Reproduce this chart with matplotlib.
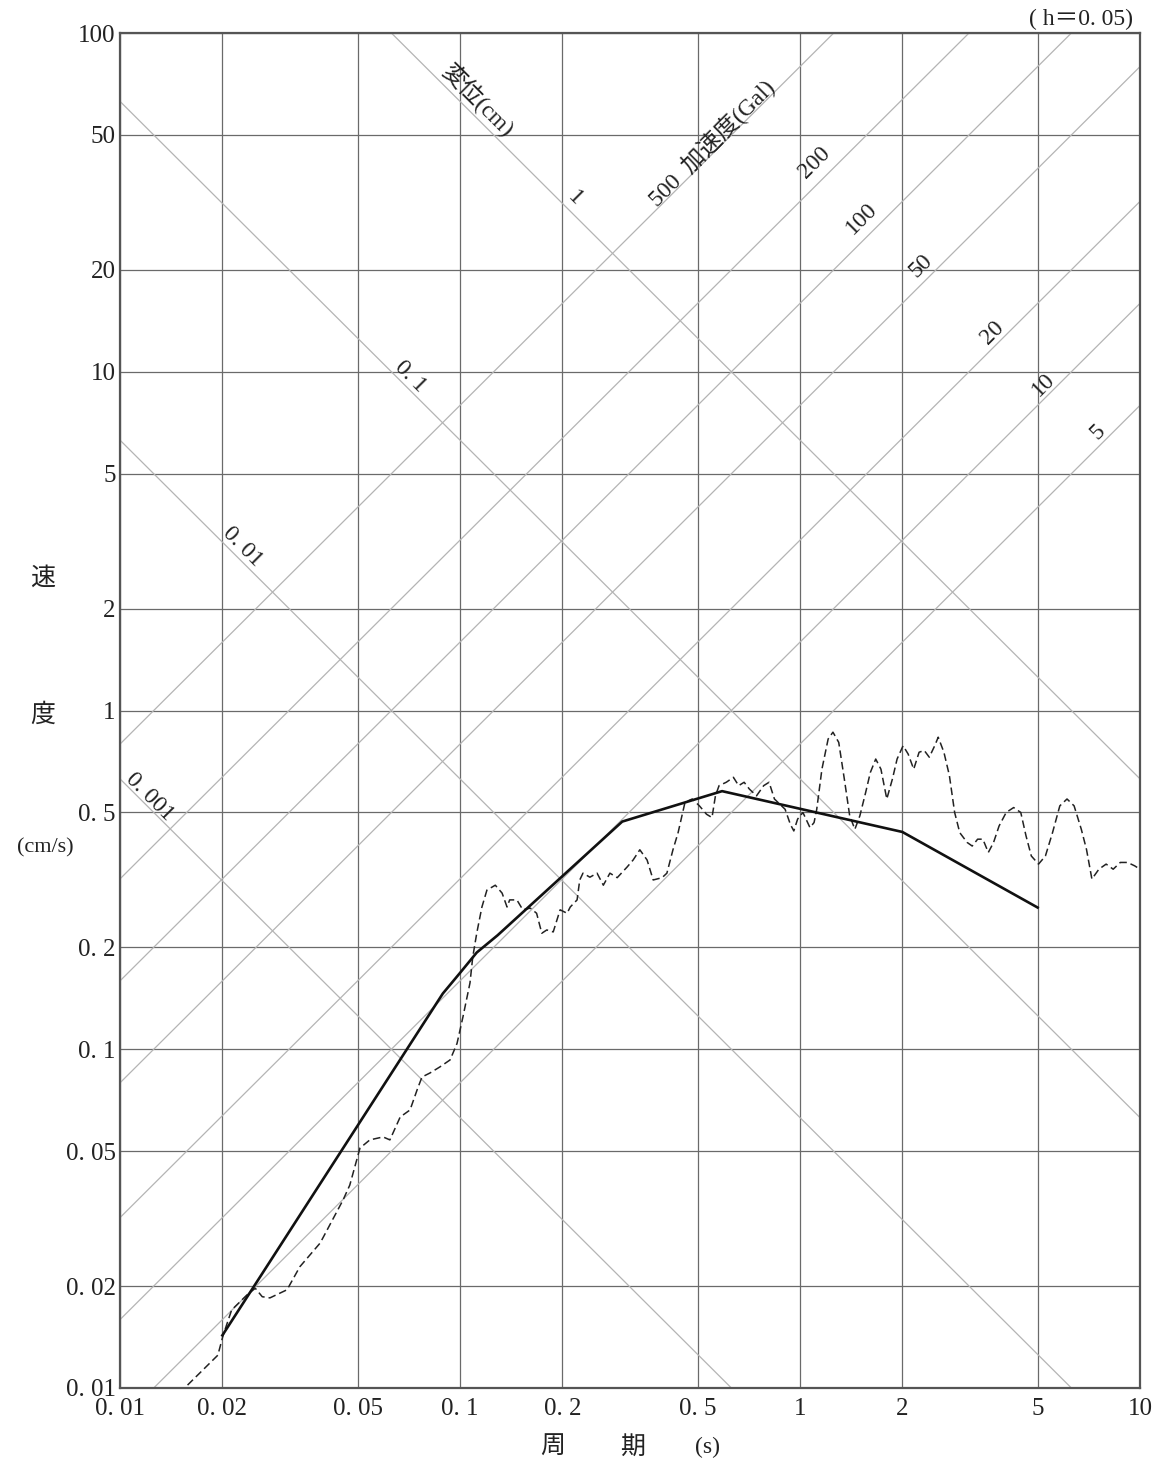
import numpy as np
import matplotlib
matplotlib.use("Agg")
import matplotlib.pyplot as plt
from matplotlib.ticker import FixedLocator, FixedFormatter, NullLocator

# ---------------- data ----------------
period_ticks = [0.01, 0.02, 0.05, 0.1, 0.2, 0.5, 1, 2, 5, 10]
period_labels = ["0. 01", "0. 02", "0. 05", "0. 1", "0. 2", "0. 5", "1", "2", "5", "10"]
vel_ticks = [0.01, 0.02, 0.05, 0.1, 0.2, 0.5, 1, 2, 5, 10, 20, 50, 100]
vel_labels = ["0. 01", "0. 02", "0. 05", "0. 1", "0. 2", "0. 5", "1", "2", "5",
              "10", "20", "50", "100"]

disp_levels = [0.001, 0.01, 0.1, 1]          # cm
acc_levels = [500, 200, 100, 50, 20, 10, 5]  # Gal

# labels of the tripartite lines: (text, period, velocity)
disp_label_text = ["変位(cm)", "1", "0. 1", "0. 01", "0. 001"]
disp_label_T = [0.113, 0.218, 0.0713, 0.0229, 0.01226]
disp_label_SV = [63.0, 32.6, 9.65, 3.04, 0.555]

acc_label_text = ["500  加速度(Gal)", "200", "100", "50", "20", "10", "5"]
acc_label_T = [0.551, 1.107, 1.52, 2.27, 3.67, 5.19, 7.52]
acc_label_SV = [47.3, 41.3, 28.4, 20.6, 13.0, 9.14, 6.64]

# design (smooth) spectrum - solid line
design_T = [0.02, 0.089, 0.100, 0.112, 0.129, 0.30, 0.59, 2.0, 5.0]
design_SV = [0.0143, 0.146, 0.168, 0.193, 0.217, 0.47, 0.578, 0.438, 0.262]

# observed spectrum - dashed line
obs_T = [0.0158, 0.0194, 0.0201, 0.0213, 0.0236, 0.0250, 0.0262, 0.0276, 0.0310,
         0.0338, 0.0388, 0.0453, 0.0474, 0.0508, 0.0543, 0.0594, 0.0622, 0.0667,
         0.0713, 0.0748, 0.0773, 0.0816, 0.0873, 0.0935, 0.098, 0.102, 0.107,
         0.109, 0.112, 0.116, 0.120, 0.127, 0.133, 0.1375, 0.140, 0.147, 0.153,
         0.161, 0.168, 0.174, 0.180, 0.188, 0.197, 0.2065, 0.211, 0.221, 0.225,
         0.230, 0.241, 0.253, 0.264, 0.276, 0.290, 0.310, 0.323, 0.338, 0.355,
         0.370, 0.393, 0.406, 0.423, 0.438, 0.459, 0.482, 0.506, 0.531, 0.551,
         0.564, 0.578, 0.607, 0.637, 0.660, 0.685, 0.710, 0.745, 0.782, 0.811,
         0.841, 0.872, 0.904, 0.937, 0.959, 0.984, 1.02, 1.07, 1.10, 1.12, 1.16,
         1.21, 1.25, 1.30, 1.35, 1.40, 1.45, 1.50, 1.56, 1.61, 1.67, 1.73, 1.80,
         1.87, 1.93, 2.01, 2.08, 2.16, 2.24, 2.32, 2.40, 2.49, 2.55, 2.65, 2.75,
         2.85, 2.95, 3.10, 3.21, 3.33, 3.45, 3.58, 3.71, 3.85, 4.04, 4.25, 4.46,
         4.62, 4.79, 5.03, 5.27, 5.53, 5.81, 6.10, 6.40, 6.72, 6.96, 7.22, 7.57,
         7.95, 8.34, 8.75, 9.19, 9.64, 10.0]
obs_SV = [0.0102, 0.0125, 0.0143, 0.0170, 0.0188, 0.0197, 0.0186, 0.01845, 0.0195,
          0.0228, 0.0268, 0.0359, 0.0397, 0.0511, 0.0540, 0.0551, 0.0540, 0.0631,
          0.0662, 0.0759, 0.0828, 0.0851, 0.0887, 0.0930, 0.104, 0.1245, 0.157,
          0.187, 0.220, 0.263, 0.295, 0.305, 0.289, 0.263, 0.276, 0.276, 0.258,
          0.261, 0.252, 0.220, 0.225, 0.222, 0.258, 0.252, 0.263, 0.276, 0.316,
          0.331, 0.322, 0.331, 0.305, 0.331, 0.321, 0.345, 0.362, 0.388, 0.362,
          0.316, 0.321, 0.331, 0.388, 0.436, 0.536, 0.548, 0.523, 0.494, 0.483,
          0.560, 0.600, 0.614, 0.635, 0.600, 0.614, 0.586, 0.560, 0.600, 0.614,
          0.548, 0.529, 0.511, 0.461, 0.441, 0.478, 0.500, 0.451, 0.467, 0.511,
          0.671, 0.824, 0.863, 0.805, 0.628, 0.489, 0.446, 0.489, 0.573, 0.656,
          0.719, 0.671, 0.548, 0.628, 0.719, 0.787, 0.744, 0.671, 0.753, 0.762,
          0.728, 0.787, 0.834, 0.753, 0.643, 0.500, 0.436, 0.408, 0.398, 0.417,
          0.417, 0.381, 0.408, 0.456, 0.500, 0.517, 0.500, 0.427, 0.372, 0.352,
          0.372, 0.436, 0.523, 0.548, 0.523, 0.446, 0.389, 0.318, 0.340, 0.352,
          0.340, 0.356, 0.356, 0.348, 0.340]

# ---------------- figure ----------------
W, H = 1165, 1465
fig = plt.figure(figsize=(W / 100, H / 100), dpi=100)
ax = fig.add_axes([120 / W, 1 - 1388 / H, (1140 - 120) / W, (1388 - 33) / H])
ax.set_xscale("log")
ax.set_yscale("log")
ax.set_xlim(0.01, 10)
ax.set_ylim(0.01, 100)

num_font = "Liberation Serif"
cjk_font = ["Liberation Serif", "Noto Sans CJK JP"]
txt_color = "#222222"

ax.xaxis.set_major_locator(FixedLocator(period_ticks))
ax.xaxis.set_major_formatter(FixedFormatter(period_labels))
ax.yaxis.set_major_locator(FixedLocator(vel_ticks))
ax.yaxis.set_major_formatter(FixedFormatter(vel_labels))
ax.xaxis.set_minor_locator(NullLocator())
ax.yaxis.set_minor_locator(NullLocator())
ax.tick_params(axis="both", length=0, labelsize=18, colors=txt_color)
ax.tick_params(axis="x", pad=7)
ax.tick_params(axis="y", pad=3)
for lab in ax.get_xticklabels() + ax.get_yticklabels():
    lab.set_fontfamily(num_font)

ax.grid(True, which="major", color="#6a6a6a", linewidth=0.9)
ax.set_axisbelow(True)
for sp in ax.spines.values():
    sp.set_color("#555555")
    sp.set_linewidth(1.6)

# tripartite lines
Tg = np.logspace(-2, 1, 400)
diag_color = "#b4b4b4"
for D in disp_levels:
    ax.plot(Tg, 2 * np.pi * D / Tg, color=diag_color, lw=0.9, zorder=1)
for A in acc_levels:
    ax.plot(Tg, A * Tg / (2 * np.pi), color=diag_color, lw=0.9, zorder=1)

for txt, t, v in zip(disp_label_text, disp_label_T, disp_label_SV):
    ax.text(t, v, txt, rotation=-45, rotation_mode="anchor", ha="center", va="center",
            fontsize=17, family=cjk_font, color=txt_color, zorder=3)
for txt, t, v in zip(acc_label_text, acc_label_T, acc_label_SV):
    ax.text(t, v, txt, rotation=45, rotation_mode="anchor", ha="center", va="center",
            fontsize=17, family=cjk_font, color=txt_color, zorder=3)

# spectra
ax.plot(design_T, design_SV, color="#111111", lw=1.9, zorder=5)
ax.plot(obs_T, obs_SV, color="#222222", lw=1.1, dashes=(5, 2.6), zorder=4)

# titles / axis labels
fig.text(1133 / W, 1 - 19 / H, "( h＝0. 05)", ha="right", va="center",
         fontsize=17, family=cjk_font, color=txt_color)
fig.text(43 / W, 1 - 578 / H, "速", ha="center", va="center", fontsize=18,
         family="Noto Sans CJK JP", color=txt_color)
fig.text(43 / W, 1 - 715 / H, "度", ha="center", va="center", fontsize=18,
         family="Noto Sans CJK JP", color=txt_color)
fig.text(45 / W, 1 - 848 / H, "(cm/s)", ha="center", va="center", fontsize=16,
         family=num_font, color=txt_color)
fig.text(553 / W, 1 - 1447 / H, "周", ha="center", va="center", fontsize=18,
         family="Noto Sans CJK JP", color=txt_color)
fig.text(633 / W, 1 - 1447 / H, "期", ha="center", va="center", fontsize=18,
         family="Noto Sans CJK JP", color=txt_color)
fig.text(707 / W, 1 - 1447 / H, "(s)", ha="center", va="center", fontsize=17,
         family=num_font, color=txt_color)

fig.savefig("out.png", dpi=100, facecolor="white")
